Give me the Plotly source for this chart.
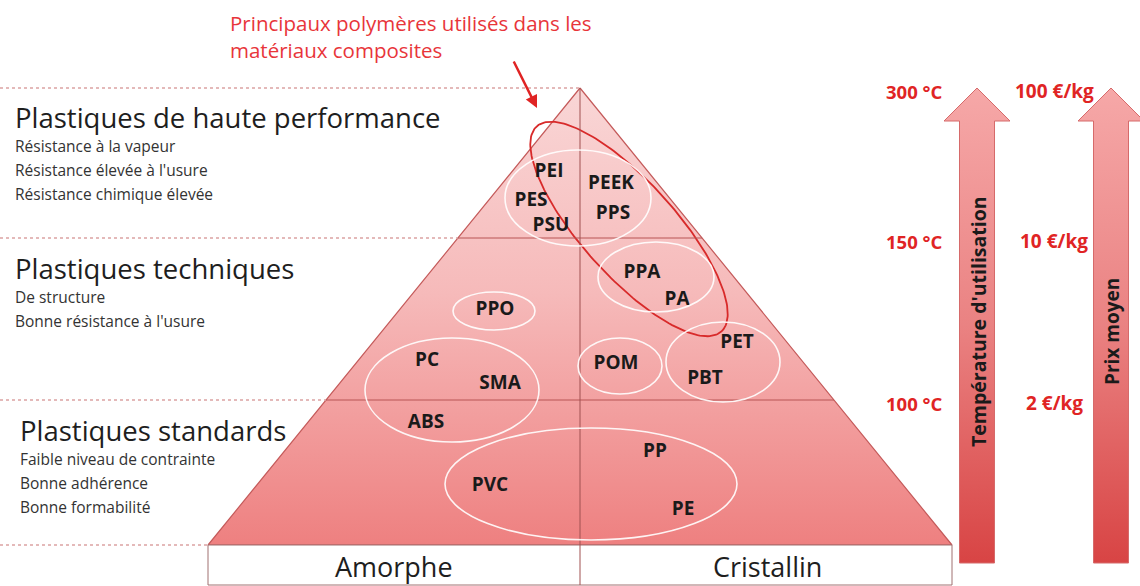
import numpy as np
import plotly.graph_objects as go

# ---- data -------------------------------------------------------------
levels = ["Plastiques de haute performance", "Plastiques techniques", "Plastiques standards"]
level_props = [
    ["Résistance à la vapeur", "Résistance élevée à l'usure", "Résistance chimique élevée"],
    ["De structure", "Bonne résistance à l'usure"],
    ["Faible niveau de contrainte", "Bonne adhérence", "Bonne formabilité"],
]
temps = ["300 °C", "150 °C", "100 °C"]
prices = ["100 €/kg", "10 €/kg", "2 €/kg"]
families = ["Amorphe", "Cristallin"]

polymers = ["PEI", "PES", "PSU", "PEEK", "PPS", "PPA", "PA", "PPO", "PC", "SMA",
            "ABS", "POM", "PET", "PBT", "PVC", "PP", "PE"]
poly_x = [549, 531, 551, 611, 613, 642, 677, 495, 427, 500, 426, 616, 737, 705, 490, 655, 683]
poly_y = [172, 201, 226, 184, 214, 273, 300, 310, 361, 384, 423, 364, 343, 379, 486, 452, 510]

# groups (ellipses): centre x, centre y, half width, half height
groups_cx = [578, 656, 494, 452, 620, 723, 591]
groups_cy = [198, 277, 311, 390, 366, 362, 484]
groups_rx = [73, 58, 41, 87, 42, 57, 146]
groups_ry = [48, 35, 19, 52, 28, 40, 56]

# ---- geometry (pixel space) ------------------------------------------
apex = (580, 88)
base_y = 545
slope = 0.814
level_y = [88, 238, 400, 545]

def half_w(y):
    return (y - apex[1]) * slope

FONT = "Open Sans"
fig = go.Figure()

# triangle with gradient
tri_x = [apex[0], apex[0] + half_w(base_y), apex[0] - half_w(base_y), apex[0]]
tri_y = [apex[1], base_y, base_y, apex[1]]
fig.add_trace(go.Scatter(
    x=tri_x, y=tri_y, mode="lines", fill="toself",
    line=dict(color="#c45a5a", width=1.2),
    fillgradient=dict(type="vertical", start=88, stop=545,
                      colorscale=[[0, "#f9d6d6"], [0.45, "#f6baba"], [1, "#ee8080"]]),
    hoverinfo="skip", showlegend=False))

# right arrows
def block_arrow(xc, shaft_w, head_w, tip, head_base, bottom):
    xs = [xc - shaft_w / 2, xc - shaft_w / 2, xc - head_w / 2, xc, xc + head_w / 2,
          xc + shaft_w / 2, xc + shaft_w / 2, xc - shaft_w / 2]
    ys = [bottom, head_base, head_base, tip, head_base, head_base, bottom, bottom]
    return xs, ys

for xc in [977, 1111]:
    ax_, ay_ = block_arrow(xc, 35, 66, 88, 121, 563)
    fig.add_trace(go.Scatter(
        x=ax_, y=ay_, mode="lines", fill="toself",
        line=dict(color="#d66a6a", width=1),
        fillgradient=dict(type="vertical", start=88, stop=563,
                          colorscale=[[0, "#f6a8a8"], [0.5, "#ea8282"], [1, "#d84444"]]),
        hoverinfo="skip", showlegend=False))

shapes = []
# dashed level guides on the left
for y in level_y:
    x_end = apex[0] - half_w(y) if y > apex[1] else apex[0]
    shapes.append(dict(type="line", x0=0, x1=x_end, y0=y, y1=y, xref="x", yref="y",
                       line=dict(color="#dba3a3", width=1.5, dash="dot")))
# inner level lines
for y in level_y[1:3]:
    shapes.append(dict(type="line", x0=apex[0] - half_w(y), x1=apex[0] + half_w(y), y0=y, y1=y,
                       xref="x", yref="y", line=dict(color="#b85555", width=1)))
# bottom box
shapes.append(dict(type="rect", x0=apex[0] - half_w(base_y), x1=apex[0] + half_w(base_y),
                   y0=base_y, y1=585, xref="x", yref="y", fillcolor="white",
                   line=dict(color="#a07070", width=1)))
# vertical split
shapes.append(dict(type="line", x0=apex[0], x1=apex[0], y0=apex[1], y1=585, xref="x", yref="y",
                   line=dict(color="#a05050", width=1)))
# white group ellipses
for cx, cy, rx, ry in zip(groups_cx, groups_cy, groups_rx, groups_ry):
    shapes.append(dict(type="circle", x0=cx - rx, x1=cx + rx, y0=cy - ry, y1=cy + ry,
                       xref="x", yref="y", line=dict(color="rgba(255,255,255,0.9)", width=1.6)))
fig.update_layout(shapes=shapes)

# red composite ellipse
t = np.linspace(0, 2 * np.pi, 200)
cx, cy, a, b, th = 629, 229, 138, 47, np.radians(48)
ex = cx + a * np.cos(th) * np.cos(t) - b * np.sin(th) * np.sin(t)
ey = cy + a * np.sin(th) * np.cos(t) + b * np.cos(th) * np.sin(t)
fig.add_trace(go.Scatter(x=ex, y=ey, mode="lines", line=dict(color="#d82a2a", width=1.8),
                         hoverinfo="skip", showlegend=False))

# polymer labels
fig.add_trace(go.Scatter(
    x=poly_x, y=poly_y, text=polymers, mode="text",
    textfont=dict(family=FONT, size=19, color="#1a1a1a", weight="bold"),
    hoverinfo="skip", showlegend=False))

ann = []
# level titles and properties
title_y = [117, 268, 430]
title_x = [13, 13, 18]
for name, props, ty, tx in zip(levels, level_props, title_y, title_x):
    ann.append(dict(x=tx, y=ty, text=name, xanchor="left", yanchor="middle", showarrow=False,
                    font=dict(family=FONT, size=27.5, color="#1e1e1e")))
    for i, p in enumerate(props):
        ann.append(dict(x=tx, y=ty + 29 + i * 24, text=p, xanchor="left", yanchor="middle",
                        showarrow=False, font=dict(family=FONT, size=15.5, color="#333333")))

# temperature and price labels
for lbl_t, lbl_p, y in zip(temps, prices, level_y[:3]):
    ann.append(dict(x=914, y=y + 3, text=lbl_t, showarrow=False,
                    font=dict(family=FONT, size=18.5, color="#e02424", weight="bold")))
    ann.append(dict(x=1054, y=y + 3, text=lbl_p, showarrow=False,
                    font=dict(family=FONT, size=19, color="#e02424", weight="bold")))

# arrow captions
ann.append(dict(x=978, y=322, text="Température d'utilisation", textangle=-90, showarrow=False,
                font=dict(family=FONT, size=19.5, color="#1a1a1a", weight="bold")))
ann.append(dict(x=1112, y=332, text="Prix moyen", textangle=-90, showarrow=False,
                font=dict(family=FONT, size=19, color="#1a1a1a", weight="bold")))

# family labels
for fam, fx in zip(families, [394, 767]):
    ann.append(dict(x=fx, y=566, text=fam, showarrow=False,
                    font=dict(family=FONT, size=27, color="#1e1e1e")))

# red note with arrow
ann.append(dict(x=228, y=36, text="Principaux polymères utilisés dans les<br>matériaux composites",
                xanchor="left", yanchor="middle", align="left", showarrow=False,
                font=dict(family=FONT, size=20.5, color="#e8353a")))
ann.append(dict(x=537, y=108, ax=513, ay=60, xref="x", yref="y", axref="x", ayref="y",
                text="", showarrow=True, arrowhead=2, arrowsize=1, arrowwidth=2.5,
                arrowcolor="#e02424"))

for d in ann:
    d.setdefault("xref", "x")
    d.setdefault("yref", "y")
fig.update_layout(annotations=ann)

fig.update_xaxes(visible=False, range=[0, 1140], fixedrange=True)
fig.update_yaxes(visible=False, range=[586, 0], fixedrange=True)
fig.update_layout(width=1140, height=586, margin=dict(l=0, r=0, t=0, b=0),
                  plot_bgcolor="white", paper_bgcolor="white", showlegend=False)

fig.write_html("out.html", config={"displayModeBar": False},
               post_script="document.body.style.margin='0';")
